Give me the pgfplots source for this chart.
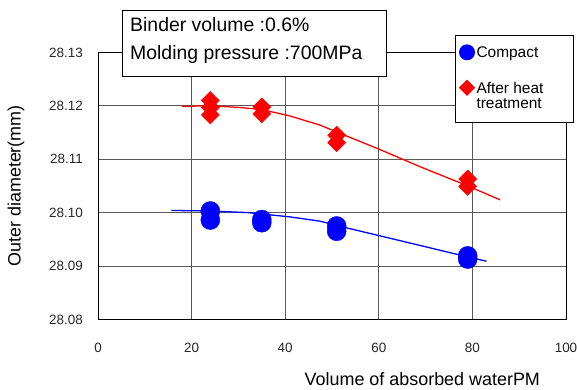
\documentclass[border=0pt]{standalone}
\usepackage{fontspec}
\setmainfont{Liberation Sans}
\usepackage{pgfplots}
\pgfplotsset{compat=1.18}
\definecolor{myblue}{RGB}{0,0,255}
\definecolor{myred}{RGB}{255,0,0}
\pgfplotsset{leg bot/.initial=0bp, leg top/.initial=13.5bp}
\begin{document}
\begin{tikzpicture}
\useasboundingbox (0,0) rectangle (577bp,390bp);
\begin{axis}[
  at={(98bp,70.6bp)}, anchor=south west,
  scale only axis, width=468bp, height=267bp,
  xmin=0, xmax=100, ymin=28.08, ymax=28.13,
  xtick={0,20,40,60,80,100},
  ytick={28.08,28.09,28.10,28.11,28.12,28.13},
  /pgf/number format/assume math mode=true,
  yticklabel={\pgfmathprintnumber[fixed,precision=2,fixed zerofill]{\tick}},
  ticklabel style={font=\fontsize{13.5}{15}\selectfont, text=black!85},
  yticklabel style={inner sep=0pt, xshift=-15bp},
  xticklabel style={inner sep=0pt, yshift=-24bp},
  major tick length=0pt,
  grid=major,
  grid style={black!65, line width=0.9pt},
  axis line style={black, line width=0.9pt},
  xlabel={Volume of absorbed waterPM},
  ylabel={Outer diameter(mm)},
  label style={font=\fontsize{18}{20}\selectfont},
  xlabel style={at={([yshift=-59.6bp]axis description cs:0.693,0)}, anchor=center},
  ylabel style={at={([xshift=-82bp]axis description cs:0,0.5)}, anchor=center},
  legend style={at={(axis description cs:1.017,1.065)}, anchor=north east,
    draw=black, line width=0.9pt, fill=white,
    font=\fontsize{15.5}{15}\selectfont,
    cells={anchor=base west, inner ysep=0pt},
    inner xsep=4bp, inner ysep=8.5bp, row sep=0pt, column sep=0pt},
  legend image code/.code={\draw[#1] plot coordinates {(0.28cm,5.6bp)};
    \path (0.28cm,\pgfkeysvalueof{/pgfplots/leg bot}) (0.28cm,\pgfkeysvalueof{/pgfplots/leg top});},
]
% trend lines
\addplot[myred, line width=1.3pt, forget plot] coordinates {
 (18,28.1199) (24,28.1200) (30,28.1197) (35,28.1193) (41,28.1181)
 (47.4,28.1164) (53.8,28.1141) (60,28.1119) (68.8,28.1086) (79,28.1050) (85.9,28.1024)};
\addplot[myblue, line width=1.3pt, forget plot] coordinates {
 (15.7,28.1004) (24,28.1003) (32,28.1000) (41,28.0992) (47.4,28.0984)
 (53.8,28.0970) (60,28.0957) (70,28.0936) (79,28.0917) (83,28.0909)};
% data
\addplot[only marks, mark=*, mark size=9.5bp, color=myblue, mark options={draw=myblue, fill=myblue},
  legend image post style={mark size=7.5bp}, leg bot=-21bp] coordinates {
 (24,28.1003) (24,28.0986) (35,28.0987) (35,28.0981)
 (51,28.0975) (51,28.0965) (79,28.0919) (79,28.0913)};
\addlegendentry{Compact}
\addplot[only marks, mark=square*, mark size=6.4bp, color=myred, mark options={draw=myred, fill=myred, rotate=45},
  legend image post style={mark size=5.3bp}] coordinates {
 (24,28.1210) (24,28.1197) (24,28.1183) (35,28.1198) (35,28.1185)
 (51,28.1145) (51,28.1131) (79,28.1063) (79,28.1049)};
\addlegendentry{\makebox[91bp][l]{After heat}}
\addlegendimage{only marks, mark=none, draw=none, fill=none, opacity=0, mark size=0pt, leg bot=-5.5bp, leg top=12bp}
\addlegendentry{treatment}
\end{axis}
\draw[black, line width=0.9pt, fill=white] (122bp,314bp) rectangle (386bp,380bp);
\node[anchor=base west, inner sep=0pt, font=\fontsize{19.5}{21}\selectfont] at (130bp,358bp) {Binder volume :0.6\%};
\node[anchor=base west, inner sep=0pt, font=\fontsize{19.5}{21}\selectfont] at (130bp,330bp) {Molding pressure :700MPa};
\end{tikzpicture}
\end{document}
